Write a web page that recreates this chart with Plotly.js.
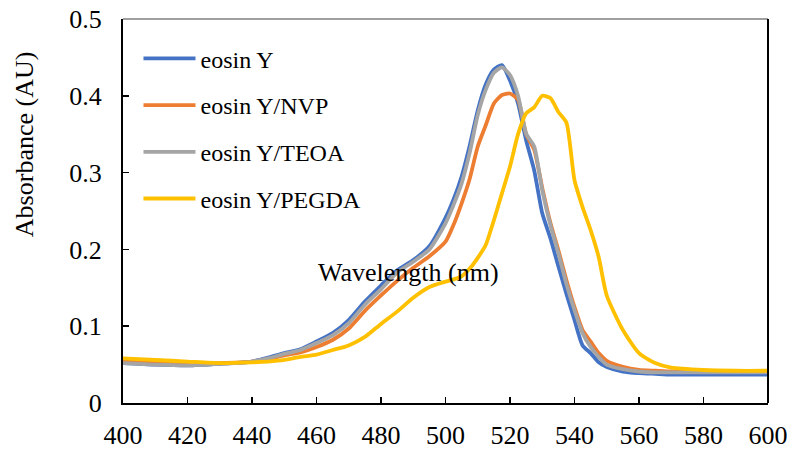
<!DOCTYPE html>
<html>
<head>
<meta charset="utf-8">
<script src="https://cdn.plot.ly/plotly-3.0.1.min.js"></script>
<style>html,body{margin:0;padding:0;background:#fff;}#chart{width:792px;height:457px;}</style>
</head>
<body>
<div id="chart"></div>
<script>
const wavelength = [400,410,420,430,440,445,450,455,460,465,470,475,480,485,490,495,500,502.5,505,507.5,510,512.5,515,517.5,520,522.5,525,527.5,530,532.5,535,537.5,540,542.5,545,547.5,550,555,560,565,570,580,590,600];
const eosinY = [0.052,0.050,0.049,0.051,0.054,0.059,0.065,0.070,0.080,0.091,0.108,0.132,0.153,0.173,0.186,0.204,0.241,0.265,0.295,0.335,0.381,0.415,0.434,0.440,0.420,0.390,0.342,0.303,0.247,0.215,0.178,0.142,0.108,0.075,0.065,0.053,0.047,0.041,0.039,0.038,0.037,0.037,0.037,0.037];
const eosinNVP = [0.055,0.053,0.051,0.052,0.054,0.057,0.062,0.066,0.073,0.082,0.097,0.120,0.140,0.159,0.176,0.191,0.210,0.232,0.260,0.292,0.334,0.362,0.390,0.401,0.403,0.395,0.350,0.330,0.280,0.235,0.199,0.160,0.125,0.095,0.080,0.065,0.055,0.047,0.043,0.042,0.041,0.041,0.041,0.041];
const eosinTEOA = [0.052,0.050,0.049,0.051,0.054,0.058,0.064,0.069,0.078,0.088,0.104,0.128,0.148,0.170,0.184,0.200,0.234,0.258,0.286,0.326,0.375,0.408,0.430,0.437,0.427,0.400,0.351,0.334,0.277,0.232,0.195,0.155,0.121,0.091,0.073,0.060,0.050,0.044,0.041,0.040,0.040,0.040,0.040,0.040];
const eosinPEGDA = [0.058,0.056,0.054,0.052,0.053,0.054,0.056,0.060,0.063,0.069,0.075,0.086,0.103,0.119,0.137,0.151,0.158,0.161,0.165,0.175,0.189,0.206,0.238,0.273,0.308,0.350,0.377,0.385,0.400,0.397,0.379,0.365,0.290,0.255,0.225,0.190,0.140,0.095,0.065,0.052,0.046,0.043,0.042,0.042];
const seriesNames = ["eosin Y","eosin Y/NVP","eosin Y/TEOA","eosin Y/PEGDA"];
const seriesColors = ["#4472C4","#ED7D31","#A5A5A5","#FFC000"];
const xTicks = [400,420,440,460,480,500,520,540,560,580,600];
const yTicks = [0,0.1,0.2,0.3,0.4,0.5];
const yTickLabels = ["0","0.1","0.2","0.3","0.4","0.5"];

const allY = [eosinY, eosinNVP, eosinTEOA, eosinPEGDA];
const font = "Liberation Serif";
const traces = allY.map((ys, i) => ({
  x: wavelength, y: ys, type: "scatter", mode: "lines",
  name: seriesNames[i], legendgroup: "g" + i,
  line: {color: seriesColors[i], width: 3.8, shape: "spline", smoothing: 0.6}
}));

const layout = {
  width: 792, height: 457,
  margin: {l: 123, r: 24, t: 19, b: 54},
  paper_bgcolor: "#fff", plot_bgcolor: "#fff",
  font: {family: font, color: "#000", size: 25},
  showlegend: true,
  legend: {x: 0.024, y: 0.955, xanchor: "left", yanchor: "top", bgcolor: "rgba(0,0,0,0)",
    font: {family: font, size: 24, color: "#000"}, tracegroupgap: 12.5, traceorder: "grouped", itemwidth: 52},
  xaxis: {range: [400, 600], tickvals: xTicks, ticktext: xTicks.map(String), showgrid: false, zeroline: false,
    showline: true, linecolor: "#000", linewidth: 2, ticks: "inside", ticklen: 6, tickwidth: 1.5, tickcolor: "#000",
    tickfont: {family: font, size: 26, color: "#000"}, ticklabelstandoff: 8, fixedrange: true},
  yaxis: {range: [0, 0.5], tickvals: yTicks, ticktext: yTickLabels, showgrid: false, zeroline: false,
    showline: true, linecolor: "#000", linewidth: 2, ticks: "inside", ticklen: 6, tickwidth: 1.5, tickcolor: "#000",
    tickfont: {family: font, size: 26, color: "#000"}, ticklabelstandoff: 14, fixedrange: true},
  annotations: [
    {text: "Wavelength (nm)", xref: "paper", yref: "paper", x: 0.443, y: 0.341,
     xanchor: "center", yanchor: "middle", showarrow: false, font: {family: font, size: 26, color: "#000"}},
    {text: "Absorbance (AU)", xref: "paper", yref: "paper", x: -0.1535, y: 0.674, textangle: -90,
     xanchor: "center", yanchor: "middle", showarrow: false, font: {family: font, size: 26, color: "#000"}}
  ],
  shapes: [
    {type: "line", xref: "paper", yref: "paper", x0: 0, x1: 1, y0: 1, y1: 1, line: {color: "#7F7F7F", width: 1.5}},
    {type: "line", xref: "paper", yref: "paper", x0: 1, x1: 1, y0: 0, y1: 1, line: {color: "#000", width: 2}}
  ]
};
Plotly.newPlot("chart", traces, layout, {displayModeBar: false, staticPlot: true});
</script>
</body>
</html>
